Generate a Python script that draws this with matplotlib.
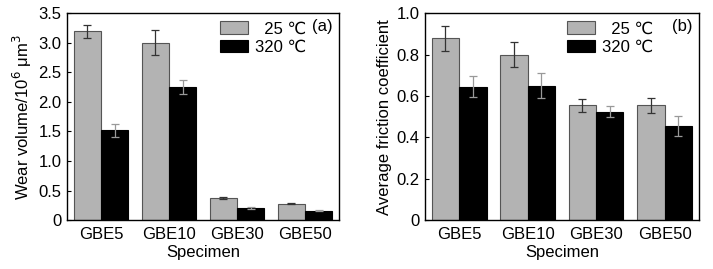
import numpy as np
import matplotlib.pyplot as plt

plt.rcParams['font.family'] = ['Liberation Sans', 'DejaVu Sans']
plt.rcParams['font.size'] = 12

specimens = ["GBE5", "GBE10", "GBE30", "GBE50"]
labels = ["  25 \u2103", "320 \u2103"]

# wear volume (10^6 um^3)
wear_25 = [3.20, 3.00, 0.37, 0.28]
wear_25_err = [0.11, 0.21, 0.02, 0.01]
wear_320 = [1.52, 2.25, 0.20, 0.16]
wear_320_err = [0.11, 0.12, 0.015, 0.015]

# average friction coefficient
fric_25 = [0.88, 0.80, 0.555, 0.555]
fric_25_err = [0.06, 0.062, 0.03, 0.035]
fric_320 = [0.645, 0.65, 0.525, 0.455]
fric_320_err = [0.052, 0.06, 0.028, 0.047]

fig = plt.figure(figsize=(7.13, 2.69), dpi=100)
ax1 = fig.add_axes([0.094, 0.182, 0.3815, 0.7685])
ax2 = fig.add_axes([0.596, 0.182, 0.384, 0.7685])

x = np.arange(len(specimens))
w = 0.4


def draw(ax, v1, e1, v2, e2, ylim, yticks, yticklabels, ylabel, tag, legx):
    ax.bar(x - w / 2, v1, w, color='#b3b3b3', edgecolor='#555555', linewidth=0.8,
           yerr=e1, error_kw=dict(ecolor='#333333', elinewidth=0.9, capsize=3, capthick=0.9),
           label=labels[0])
    ax.bar(x + w / 2, v2, w, color='black', edgecolor='black', linewidth=0.8,
           yerr=e2, error_kw=dict(ecolor='#999999', elinewidth=0.9, capsize=3, capthick=0.9),
           label=labels[1])
    ax.set_xlim(-0.5, 3.5)
    ax.set_ylim(*ylim)
    ax.set_yticks(yticks)
    ax.set_yticklabels(yticklabels)
    ax.set_xticks(x)
    ax.set_xticklabels(specimens)
    ax.tick_params(axis='y', direction='in', length=3, width=0.8, pad=4)
    ax.tick_params(axis='x', length=0, pad=5)
    ax.set_xlabel("Specimen", labelpad=2)
    ax.set_ylabel(ylabel, labelpad=3)
    for s in ax.spines.values():
        s.set_linewidth(1.0)
    ax.legend(loc='upper left', bbox_to_anchor=(legx, 0.962), frameon=False,
              handlelength=1.7, handleheight=0.8, handletextpad=0.4,
              labelspacing=0.2, borderpad=0, borderaxespad=0)
    ax.text(0.978, 0.935, tag, transform=ax.transAxes, ha='right', va='center')


draw(ax1, wear_25, wear_25_err, wear_320, wear_320_err, (0, 3.5),
     [0, 0.5, 1.0, 1.5, 2.0, 2.5, 3.0, 3.5],
     ["0", "0.5", "1.0", "1.5", "2.0", "2.5", "3.0", "3.5"],
     "Wear volume/10$^{6}$ \u03bcm$^{3}$", "(a)", 0.5625)
draw(ax2, fric_25, fric_25_err, fric_320, fric_320_err, (0, 1.0),
     [0, 0.2, 0.4, 0.6, 0.8, 1.0],
     ["0", "0.2", "0.4", "0.6", "0.8", "1.0"],
     "Average friction coefficient", "(b)", 0.518)

fig.savefig("out.png", dpi=100)
